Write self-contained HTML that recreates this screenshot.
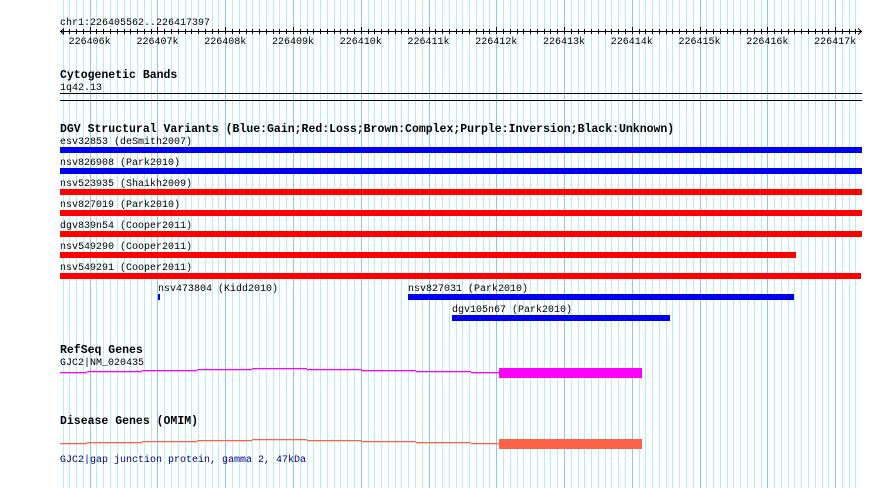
<!DOCTYPE html>
<html><head><meta charset="utf-8"><style>
html,body{margin:0;padding:0;background:#fff}
svg{display:block}
text{font-family:"Liberation Mono",monospace;font-size:10px;fill:#000}
.b{font-weight:bold;font-size:11.5px}
</style></head><body>
<svg id="c" width="890" height="488" viewBox="0 0 890 488"></svg>
<script>
const viewStart = 226405562, viewEnd = 226417397;
const variantNames = ["esv32853 (deSmith2007)","nsv826908 (Park2010)","nsv523935 (Shaikh2009)","nsv827019 (Park2010)","dgv839n54 (Cooper2011)","nsv549290 (Cooper2011)","nsv549291 (Cooper2011)","nsv473804 (Kidd2010)","nsv827031 (Park2010)","dgv105n67 (Park2010)"];
const variantStarts = [226405000,226405000,226405000,226405000,226405000,226405000,226405000,226407008,226410697,226411346];
const variantEnds = [226418000,226418000,226418000,226418000,226418000,226416422,226417380,226407038,226416393,226414563];
const variantTypes = ["gain","gain","loss","loss","loss","loss","loss","gain","gain","gain"];
const variantRows = [0,1,2,3,4,5,6,7,7,8];
const geneStart = 226405000, geneThickStart = 226412040, geneThickEnd = 226414150;
const majorTicks = [226406000,226407000,226408000,226409000,226410000,226411000,226412000,226413000,226414000,226415000,226416000,226417000];

const svg = document.getElementById('c');
const NS = 'http://www.w3.org/2000/svg';
const X0 = 60, X1 = 862;
function x(bp){ return X0 + (Math.max(viewStart, Math.min(viewEnd, bp)) - viewStart) * (X1 - X0) / (viewEnd - viewStart); }
function el(tag, attrs, parent){ const e = document.createElementNS(NS, tag); for (const k in attrs) e.setAttribute(k, attrs[k]); (parent||svg).appendChild(e); return e; }
function txt(s, xx, yy, cls, fill){ const t = el('text', {x:xx, y:yy}); if (cls) t.setAttribute('class', cls); if (fill) t.setAttribute('fill', fill), t.style.fill = fill; t.textContent = s; return t; }

// grid
const grid = el('g', {});


for (let bp = Math.ceil(viewStart/100)*100; bp <= viewEnd; bp += 100) {
  const major = bp % 1000 === 0;
  const gx = Math.round(x(bp)) + 0.5;
  el('line', {x1:gx, x2:gx, y1:0, y2:488, stroke: major ? '#88c8ee' : '#b4eef0', 'stroke-width':1}, grid);
}

// ruler
const ruler = el('g', {});


const rt = txt('chr1:226405562..226417397', 60, 25);


el('line', {x1:X0, x2:X1, y1:31.5, y2:31.5, stroke:'#000'}, ruler);
el('path', {d:'M64 28.5 L60.5 31.5 L64 34.5 M858 28.5 L861.5 31.5 L858 34.5', stroke:'#000', fill:'none'}, ruler);
for (let bp = Math.ceil(viewStart/100)*100; bp <= viewEnd; bp += 100) {
  const gx = Math.round(x(bp)) + 0.5;
  el('line', {x1:gx, x2:gx, y1:bp%1000===0?27:29, y2:34, stroke:'#000'}, ruler);
}
majorTicks.forEach(t => {
  const l = txt((t/1000)+'k', x(t), 44);
  l.setAttribute('text-anchor', 'middle');
  
  
});

// cytoband
let t = txt('Cytogenetic Bands', 60, 78, 'b');


t = txt('1q42.13', 60, 90);


el('line', {x1:X0, x2:X1, y1:93.5, y2:93.5, stroke:'#000'});
el('line', {x1:X0, x2:X1, y1:100.5, y2:100.5, stroke:'#000'});

// DGV
t = txt('DGV Structural Variants (Blue:Gain;Red:Loss;Brown:Complex;Purple:Inversion;Black:Unknown)', 60, 132, 'b');


const colors = {gain:'#0000ee', loss:'#ff0000'};
variantNames.forEach((n, i) => {
  const r = variantRows[i];
  const by = 147 + r * 21;
  const sx = Math.round(x(variantStarts[i])), ex = Math.round(x(variantEnds[i]));
  const lab = txt(n, sx, by - 3);
  
  
  const b = el('rect', {x:sx, y:by, width:Math.max(2, ex - sx), height:6, fill:colors[variantTypes[i]]});
  
  
});

// genes
function gene(y0, color, steps){
  const g = el('g', {});
  const segW = 55;
  let sx = 60;
  const segStarts = [60,87,142,197,252,307,362,416,471];
  segStarts.forEach((s, i) => {
    const e = i < segStarts.length-1 ? segStarts[i+1] : Math.round(x(geneThickStart));
    el('rect', {x:s, y:y0 + steps[i], width:e - s, height:1.3, fill:color}, g);
  });
  const tx = Math.round(x(geneThickStart)), te = Math.round(x(geneThickEnd));
  el('rect', {x:tx, y:y0 - 4, width:te - tx, height:10, fill:color}, g);
  return g;
}
t = txt('RefSeq Genes', 60, 353, 'b');


t = txt('GJC2|NM_020435', 60, 365);


let g1 = gene(372, '#ff00ff', [0,-1,-2,-3,-4,-3,-2,-1,0]);



t = txt('Disease Genes (OMIM)', 60, 424, 'b');


let g2 = gene(443, '#ff6347', [0,-1,-2,-3,-4,-3,-2,-1,0]);


t = txt('GJC2|gap junction protein, gamma 2, 47kDa', 60, 462, null, '#000080');


</script>
</body></html>
